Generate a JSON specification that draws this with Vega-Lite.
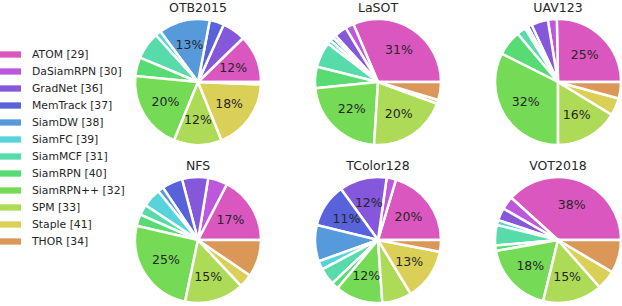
{
  "$schema": "https://vega.github.io/schema/vega-lite/v6.json",
  "padding": {"left": 0, "top": 1, "right": 0, "bottom": 0},
  "config": {
    "font": "DejaVu Sans",
    "view": {"stroke": null},
    "legend": {
      "orient": "none",
      "legendX": -135,
      "legendY": 25,
      "padding": 0,
      "title": null,
      "symbolType": "M-1,-0.3H1V0.3H-1Z",
      "symbolSize": 441,
      "symbolStrokeWidth": 0,
      "symbolOpacity": 1,
      "labelFontSize": 10.8,
      "labelColor": "#262626",
      "labelOffset": 11,
      "rowPadding": 1
    }
  },
  "data": {
    "values": [
      {"ds": "OTB2015", "m": "ATOM [29]", "i": 0, "v": 12.3},
      {"ds": "OTB2015", "m": "GradNet [36]", "i": 2, "v": 6},
      {"ds": "OTB2015", "m": "MemTrack [37]", "i": 3, "v": 3.7},
      {"ds": "OTB2015", "m": "SiamDW [38]", "i": 4, "v": 13.2},
      {"ds": "OTB2015", "m": "SiamFC [39]", "i": 5, "v": 1.5},
      {"ds": "OTB2015", "m": "SiamMCF [31]", "i": 6, "v": 7},
      {"ds": "OTB2015", "m": "SiamRPN [40]", "i": 7, "v": 4.8},
      {"ds": "OTB2015", "m": "SiamRPN++ [32]", "i": 8, "v": 20.3},
      {"ds": "OTB2015", "m": "SPM [33]", "i": 9, "v": 12.3},
      {"ds": "OTB2015", "m": "Staple [41]", "i": 10, "v": 18.3},
      {"ds": "OTB2015", "m": "THOR [34]", "i": 11, "v": 0.6},

      {"ds": "LaSOT", "m": "ATOM [29]", "i": 0, "v": 31.4},
      {"ds": "LaSOT", "m": "DaSiamRPN [30]", "i": 1, "v": 2.2},
      {"ds": "LaSOT", "m": "GradNet [36]", "i": 2, "v": 3.2},
      {"ds": "LaSOT", "m": "MemTrack [37]", "i": 3, "v": 0.8},
      {"ds": "LaSOT", "m": "SiamDW [38]", "i": 4, "v": 1},
      {"ds": "LaSOT", "m": "SiamFC [39]", "i": 5, "v": 1},
      {"ds": "LaSOT", "m": "SiamMCF [31]", "i": 6, "v": 6.5},
      {"ds": "LaSOT", "m": "SiamRPN [40]", "i": 7, "v": 5.5},
      {"ds": "LaSOT", "m": "SiamRPN++ [32]", "i": 8, "v": 22.4},
      {"ds": "LaSOT", "m": "SPM [33]", "i": 9, "v": 20.4},
      {"ds": "LaSOT", "m": "Staple [41]", "i": 10, "v": 1},
      {"ds": "LaSOT", "m": "THOR [34]", "i": 11, "v": 4.6},

      {"ds": "UAV123", "m": "ATOM [29]", "i": 0, "v": 25.3},
      {"ds": "UAV123", "m": "DaSiamRPN [30]", "i": 1, "v": 2.3},
      {"ds": "UAV123", "m": "GradNet [36]", "i": 2, "v": 4.3},
      {"ds": "UAV123", "m": "MemTrack [37]", "i": 3, "v": 1},
      {"ds": "UAV123", "m": "SiamDW [38]", "i": 4, "v": 0.5},
      {"ds": "UAV123", "m": "SiamFC [39]", "i": 5, "v": 0.4},
      {"ds": "UAV123", "m": "SiamMCF [31]", "i": 6, "v": 2.3},
      {"ds": "UAV123", "m": "SiamRPN [40]", "i": 7, "v": 6.5},
      {"ds": "UAV123", "m": "SiamRPN++ [32]", "i": 8, "v": 32.4},
      {"ds": "UAV123", "m": "SPM [33]", "i": 9, "v": 16.3},
      {"ds": "UAV123", "m": "Staple [41]", "i": 10, "v": 4.5},
      {"ds": "UAV123", "m": "THOR [34]", "i": 11, "v": 4.2},

      {"ds": "NFS", "m": "ATOM [29]", "i": 0, "v": 17.4},
      {"ds": "NFS", "m": "DaSiamRPN [30]", "i": 1, "v": 5},
      {"ds": "NFS", "m": "GradNet [36]", "i": 2, "v": 6.7},
      {"ds": "NFS", "m": "MemTrack [37]", "i": 3, "v": 5.3},
      {"ds": "NFS", "m": "SiamDW [38]", "i": 4, "v": 1.5},
      {"ds": "NFS", "m": "SiamFC [39]", "i": 5, "v": 4.8},
      {"ds": "NFS", "m": "SiamMCF [31]", "i": 6, "v": 2.7},
      {"ds": "NFS", "m": "SiamRPN [40]", "i": 7, "v": 3},
      {"ds": "NFS", "m": "SiamRPN++ [32]", "i": 8, "v": 25.3},
      {"ds": "NFS", "m": "SPM [33]", "i": 9, "v": 15.3},
      {"ds": "NFS", "m": "Staple [41]", "i": 10, "v": 3.5},
      {"ds": "NFS", "m": "THOR [34]", "i": 11, "v": 9.5},

      {"ds": "TColor128", "m": "ATOM [29]", "i": 0, "v": 20.4},
      {"ds": "TColor128", "m": "DaSiamRPN [30]", "i": 1, "v": 2.4},
      {"ds": "TColor128", "m": "GradNet [36]", "i": 2, "v": 12.2},
      {"ds": "TColor128", "m": "MemTrack [37]", "i": 3, "v": 11.2},
      {"ds": "TColor128", "m": "SiamDW [38]", "i": 4, "v": 9.3},
      {"ds": "TColor128", "m": "SiamFC [39]", "i": 5, "v": 2.2},
      {"ds": "TColor128", "m": "SiamMCF [31]", "i": 6, "v": 4.4},
      {"ds": "TColor128", "m": "SiamRPN [40]", "i": 7, "v": 1.8},
      {"ds": "TColor128", "m": "SiamRPN++ [32]", "i": 8, "v": 12.2},
      {"ds": "TColor128", "m": "SPM [33]", "i": 9, "v": 7.6},
      {"ds": "TColor128", "m": "Staple [41]", "i": 10, "v": 13.3},
      {"ds": "TColor128", "m": "THOR [34]", "i": 11, "v": 3.0},

      {"ds": "VOT2018", "m": "ATOM [29]", "i": 0, "v": 38.3},
      {"ds": "VOT2018", "m": "DaSiamRPN [30]", "i": 1, "v": 3.4},
      {"ds": "VOT2018", "m": "GradNet [36]", "i": 2, "v": 3.2},
      {"ds": "VOT2018", "m": "SiamFC [39]", "i": 5, "v": 1.3},
      {"ds": "VOT2018", "m": "SiamMCF [31]", "i": 6, "v": 5.2},
      {"ds": "VOT2018", "m": "SiamRPN [40]", "i": 7, "v": 1.4},
      {"ds": "VOT2018", "m": "SiamRPN++ [32]", "i": 8, "v": 18.4},
      {"ds": "VOT2018", "m": "SPM [33]", "i": 9, "v": 15.3},
      {"ds": "VOT2018", "m": "Staple [41]", "i": 10, "v": 5},
      {"ds": "VOT2018", "m": "THOR [34]", "i": 11, "v": 8.5}
    ]
  },
  "transform": [
    {"calculate": "datum.v >= 10 ? format(datum.v, '.0f') + '%' : ''", "as": "lab"}
  ],
  "facet": {
    "field": "ds",
    "type": "nominal",
    "sort": ["OTB2015", "LaSOT", "UAV123", "NFS", "TColor128", "VOT2018"],
    "header": {
      "title": null,
      "labelFontSize": 12.5,
      "labelColor": "#262626",
      "labelPadding": 0
    }
  },
  "columns": 3,
  "spacing": {"column": 44, "row": 9},
  "spec": {
    "width": 126,
    "height": 126,
    "encoding": {
      "theta": {
        "field": "v",
        "type": "quantitative",
        "stack": true,
        "scale": {"domain": [0, 100], "range": [1.5708, -4.7124]}
      },
      "color": {
        "field": "m",
        "type": "nominal",
        "scale": {
          "domain": ["ATOM [29]", "DaSiamRPN [30]", "GradNet [36]", "MemTrack [37]", "SiamDW [38]", "SiamFC [39]", "SiamMCF [31]", "SiamRPN [40]", "SiamRPN++ [32]", "SPM [33]", "Staple [41]", "THOR [34]"],
          "range": ["#db57c0", "#bd57db", "#8557db", "#5762db", "#579adb", "#57d3db", "#57dbaa", "#57db72", "#75db57", "#addb57", "#dbd057", "#db9757"]
        }
      },
      "order": {"field": "i", "type": "quantitative"}
    },
    "layer": [
      {"mark": {"type": "arc", "stroke": "white", "strokeWidth": 2.5}},
      {
        "mark": {"type": "text", "radius": 38, "fontSize": 12.5},
        "encoding": {
          "text": {"field": "lab"},
          "color": {"value": "#262626"}
        }
      }
    ]
  }
}
